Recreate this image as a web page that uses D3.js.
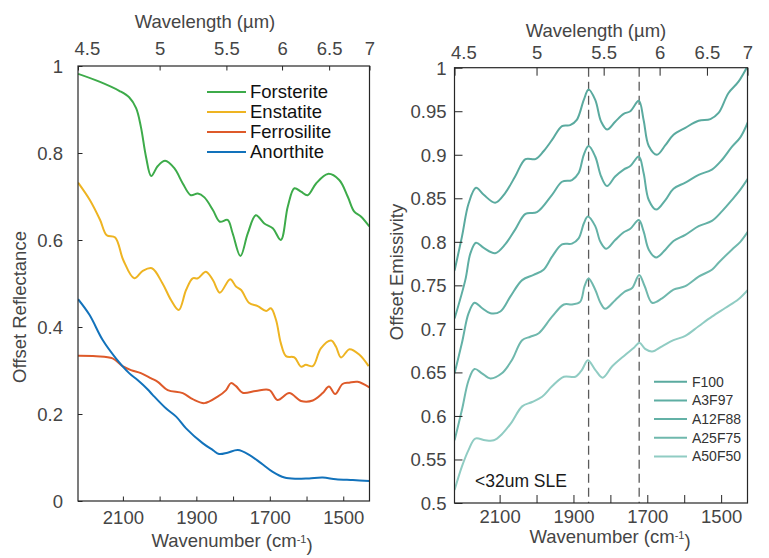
<!DOCTYPE html>
<html>
<head>
<meta charset="utf-8">
<script src="https://cdn.jsdelivr.net/npm/d3@7"></script>
<style>
  html, body { margin: 0; padding: 0; background: #fff; }
  svg { display: block; font-family: "Liberation Sans", Arial, Helvetica, sans-serif; }
</style>
</head>
<body>
<svg id="chart" width="769" height="558"></svg>
<script>
// ---------------- DATA ----------------
// Left panel: offset reflectance vs wavenumber (cm^-1)
const forsteriteWn  = [2222,2164,2110,2083,2064,2051,2037,2023,2005,1985,1960,1937,1915,1896,1878,1855,1836,1815,1801,1780,1760,1738,1715,1692,1670,1651,1633,1615,1597,1574,1542,1511,1488,1470,1452,1429];
const forsteriteVal = [0.982,0.964,0.943,0.928,0.903,0.860,0.791,0.747,0.770,0.782,0.765,0.730,0.703,0.707,0.698,0.669,0.642,0.646,0.615,0.563,0.615,0.657,0.638,0.627,0.600,0.677,0.719,0.711,0.703,0.730,0.752,0.738,0.700,0.665,0.654,0.631];

const enstatiteWn  = [2222,2190,2162,2144,2121,2099,2069,2046,2021,1992,1969,1948,1928,1910,1896,1874,1855,1836,1808,1792,1778,1756,1733,1710,1697,1683,1670,1656,1633,1615,1602,1583,1561,1533,1520,1506,1483,1456,1431];
const enstatiteVal = [0.732,0.692,0.646,0.611,0.606,0.554,0.512,0.529,0.535,0.500,0.462,0.439,0.485,0.512,0.512,0.527,0.508,0.479,0.510,0.493,0.485,0.455,0.448,0.437,0.443,0.416,0.363,0.333,0.330,0.309,0.313,0.310,0.351,0.369,0.355,0.330,0.349,0.336,0.310];

const ferrosiliteWn  = [2222,2173,2128,2101,2078,2051,2023,2005,1978,1937,1910,1878,1842,1819,1806,1792,1774,1738,1701,1679,1647,1615,1583,1556,1539,1522,1502,1484,1461,1429];
const ferrosiliteVal = [0.334,0.333,0.328,0.310,0.301,0.294,0.282,0.274,0.255,0.248,0.234,0.225,0.240,0.255,0.271,0.264,0.249,0.253,0.255,0.232,0.248,0.230,0.231,0.248,0.263,0.246,0.269,0.272,0.274,0.261];

const anorthiteWn  = [2222,2191,2155,2119,2083,2060,2033,2019,1983,1955,1928,1883,1855,1838,1815,1787,1756,1724,1692,1660,1629,1593,1556,1520,1474,1429];
const anorthiteVal = [0.464,0.428,0.370,0.328,0.294,0.278,0.257,0.244,0.213,0.194,0.167,0.133,0.117,0.108,0.111,0.117,0.106,0.087,0.067,0.054,0.051,0.052,0.054,0.050,0.048,0.046];

const leftNames  = ["Forsterite","Enstatite","Ferrosilite","Anorthite"];
const leftColors = ["#3dab4a","#eeb422","#de5a2a","#1272bb"];

// Right panel: offset emissivity vs wavenumber (cm^-1)
const f100Wn  = [2222,2202,2184,2164,2143,2112,2085,2058,2030,2003,1981,1958,1931,1909,1891,1872,1859,1841,1825,1809,1787,1764,1746,1723,1710,1696,1674,1651,1629,1597,1561,1529,1507,1480,1453,1427];
const f100Val = [0.767,0.806,0.844,0.862,0.854,0.845,0.856,0.875,0.895,0.895,0.904,0.917,0.933,0.934,0.940,0.963,0.975,0.963,0.938,0.929,0.938,0.947,0.950,0.962,0.940,0.910,0.900,0.911,0.923,0.931,0.939,0.941,0.948,0.971,0.984,1.003];

const a3f97Wn  = [2222,2193,2179,2164,2143,2112,2085,2058,2030,1999,1958,1931,1904,1886,1872,1859,1841,1825,1809,1787,1764,1746,1723,1710,1696,1676,1651,1629,1597,1561,1525,1498,1471,1448,1427];
const a3f97Val = [0.712,0.756,0.787,0.799,0.793,0.787,0.797,0.814,0.832,0.834,0.854,0.869,0.871,0.879,0.900,0.910,0.898,0.875,0.864,0.875,0.883,0.887,0.898,0.879,0.848,0.837,0.848,0.861,0.868,0.877,0.883,0.894,0.909,0.920,0.938];

const a12f88Wn  = [2222,2202,2184,2168,2148,2125,2098,2071,2039,2008,1981,1958,1931,1904,1886,1872,1861,1841,1827,1811,1787,1764,1746,1723,1710,1696,1676,1651,1629,1597,1561,1525,1498,1471,1448,1427];
const a12f88Val = [0.649,0.684,0.718,0.730,0.724,0.718,0.720,0.737,0.756,0.762,0.768,0.783,0.797,0.798,0.804,0.821,0.829,0.818,0.800,0.792,0.802,0.811,0.815,0.825,0.812,0.791,0.782,0.791,0.801,0.808,0.818,0.824,0.835,0.848,0.860,0.873];

const a25f75Wn  = [2222,2202,2184,2168,2148,2125,2094,2067,2039,2017,1994,1958,1926,1904,1882,1870,1859,1841,1827,1814,1787,1760,1741,1722,1707,1687,1660,1629,1597,1561,1525,1507,1471,1448,1427];
const a25f75Val = [0.572,0.607,0.641,0.654,0.649,0.643,0.649,0.664,0.687,0.691,0.695,0.714,0.728,0.728,0.731,0.749,0.758,0.745,0.730,0.723,0.733,0.743,0.747,0.762,0.749,0.730,0.735,0.745,0.749,0.760,0.768,0.776,0.791,0.800,0.812];

const a50f50Wn  = [2222,2202,2184,2166,2139,2116,2094,2067,2039,2012,1985,1958,1926,1895,1877,1861,1841,1821,1795,1760,1737,1721,1706,1687,1660,1629,1597,1561,1525,1489,1453,1427];
const a50f50Val = [0.515,0.542,0.561,0.574,0.572,0.572,0.579,0.593,0.611,0.616,0.622,0.634,0.645,0.645,0.653,0.664,0.653,0.644,0.657,0.670,0.678,0.684,0.677,0.674,0.680,0.687,0.692,0.703,0.714,0.724,0.734,0.745];

const rightNames  = ["F100","A3F97","A12F88","A25F75","A50F50"];
const rightColors = ["#5aaa9f","#5eaea3","#63b1a6","#6fb8ad","#90ccc3"];
const dashedWn = [1859, 1722];
const annotation = "<32um SLE";

// Axis ticks
const wnTicks = [2100,2000,1900,1800,1700,1600,1500];
const wnLabels = ["2100","","1900","","1700","","1500"];
const wlTicks = [4.5,5,5.5,6,6.5,7];
const wlLabels = ["4.5","5","5.5","6","6.5","7"];
const leftYTicks = [0,0.2,0.4,0.6,0.8,1];
const leftYLabels = ["0","0.2","0.4","0.6","0.8","1"];
const rightYTicks = [0.5,0.55,0.6,0.65,0.7,0.75,0.8,0.85,0.9,0.95,1];
const rightYLabels = ["0.5","0.55","0.6","0.65","0.7","0.75","0.8","0.85","0.9","0.95","1"];

// ---------------- DRAWING ----------------
const svg = d3.select("#chart");
const FS = 18.5;
const TXT = "#454545";
const AX = "#262626";

function drawPanel(cfg) {
  const x = d3.scaleLinear().domain([10000/4.5, 10000/7]).range([cfg.x0, cfg.x1]);
  const y = d3.scaleLinear().domain(cfg.yDomain).range([cfg.y1, cfg.y0]);
  const g = svg.append("g");

  const clipId = "clip" + cfg.id;
  svg.append("defs").append("clipPath").attr("id", clipId)
    .append("rect").attr("x", cfg.x0).attr("y", cfg.y0)
    .attr("width", cfg.x1 - cfg.x0).attr("height", cfg.y1 - cfg.y0);

  const plot = g.append("g").attr("clip-path", `url(#${clipId})`);

  // dashed reference lines
  (cfg.dashed || []).forEach(wn => {
    plot.append("line")
      .attr("x1", x(wn)).attr("x2", x(wn))
      .attr("y1", cfg.y0).attr("y2", cfg.y1)
      .attr("stroke", "#5a5a5a").attr("stroke-width", 1.3)
      .attr("stroke-dasharray", "9,5");
  });

  const line = d3.line()
    .x(d => x(d[0])).y(d => y(d[1]))
    .curve(d3.curveCatmullRom.alpha(0.5));

  cfg.series.forEach((s, i) => {
    const pts = s.wn.map((w, k) => [w, s.val[k]]);
    plot.append("path").datum(pts)
      .attr("fill", "none").attr("stroke", s.color)
      .attr("stroke-width", 2).attr("stroke-linejoin", "round")
      .attr("d", line);
  });

  // axes
  const bottom = d3.axisBottom(x).tickValues(wnTicks)
    .tickFormat((d, i) => wnLabels[i]).tickSizeInner(-cfg.tick).tickSizeOuter(0).tickPadding(0);
  const top = d3.axisTop(x).tickValues(wlTicks.map(l => 10000 / l))
    .tickFormat((d, i) => wlLabels[i]).tickSizeInner(-cfg.tick).tickSizeOuter(0).tickPadding(0);
  const left = d3.axisLeft(y).tickValues(cfg.yTicks)
    .tickFormat((d, i) => cfg.yLabels[i]).tickSizeInner(-cfg.tick).tickSizeOuter(0).tickPadding(cfg.yPad);

  const gb = g.append("g").attr("transform", `translate(0,${cfg.y1})`).call(bottom);
  gb.selectAll("text").attr("y", cfg.bLabelDy).attr("dy", "0.35em");
  const gt = g.append("g").attr("transform", `translate(0,${cfg.y0})`).call(top);
  gt.selectAll("text").attr("y", -cfg.tLabelDy).attr("dy", "0.35em")
    .attr("text-anchor", (d, i) => i === 0 ? "start" : "middle")
    .attr("dx", (d, i) => i === 0 ? -4 : 0);
  const gl = g.append("g").attr("transform", `translate(${cfg.x0},0)`).call(left);
  gl.selectAll("text").attr("dy", "0.35em");

  [gb, gt, gl].forEach(a => {
    a.select(".domain").remove();
    a.selectAll(".tick line").attr("stroke", AX).attr("stroke-width", 1);
    a.selectAll("text").attr("fill", TXT).style("font-size", FS + "px")
      .style("font-family", "'Liberation Sans', Arial, sans-serif");
  });

  // box
  g.append("rect").attr("x", cfg.x0).attr("y", cfg.y0)
    .attr("width", cfg.x1 - cfg.x0).attr("height", cfg.y1 - cfg.y0)
    .attr("fill", "none").attr("stroke", AX).attr("stroke-width", 1.2);

  // titles
  g.append("text").attr("x", cfg.topTitle[0]).attr("y", cfg.topTitle[1]).attr("dy", "0.35em")
    .attr("text-anchor", "middle").attr("fill", TXT).style("font-size", FS + "px")
    .text("Wavelength (µm)");
  const bt = g.append("text").attr("x", cfg.botTitle[0]).attr("y", cfg.botTitle[1]).attr("dy", "0.35em")
    .attr("text-anchor", "middle").attr("fill", TXT).style("font-size", FS + "px");
  bt.append("tspan").text("Wavenumber (cm");
  bt.append("tspan").attr("dy", "-0.45em").style("font-size", "11px").text("-1");
  bt.append("tspan").attr("dy", "0.45em").text(")");
  g.append("text")
    .attr("transform", `translate(${cfg.yTitle[0]},${cfg.yTitle[1]}) rotate(-90)`)
    .attr("dy", "0.35em").attr("text-anchor", "middle").attr("fill", TXT)
    .style("font-size", FS + "px").text(cfg.yTitleText);

  // legend
  const lg = g.append("g");
  cfg.series.forEach((s, i) => {
    const yy = cfg.legend.y + i * cfg.legend.dy;
    lg.append("line").attr("x1", cfg.legend.x0).attr("x2", cfg.legend.x1)
      .attr("y1", yy).attr("y2", yy).attr("stroke", s.color).attr("stroke-width", 2);
    lg.append("text").attr("x", cfg.legend.tx).attr("y", yy).attr("dy", "0.35em")
      .attr("fill", cfg.legend.color).style("font-size", cfg.legend.fs + "px").text(s.name);
  });
  return { g, x, y };
}

drawPanel({
  id: "L", x0: 78, x1: 369.5, y0: 66, y1: 501, yDomain: [0, 1], tick: 4.5, yPad: 15,
  yTicks: leftYTicks, yLabels: leftYLabels,
  bLabelDy: 17, tLabelDy: 17,
  topTitle: [205, 22], botTitle: [232, 541], yTitle: [20, 307], yTitleText: "Offset Reflectance",
  legend: { x0: 207, x1: 246, tx: 250, y: 92, dy: 20, fs: 18.5, color: "#111" },
  series: [
    { name: leftNames[0], color: leftColors[0], wn: forsteriteWn, val: forsteriteVal },
    { name: leftNames[1], color: leftColors[1], wn: enstatiteWn, val: enstatiteVal },
    { name: leftNames[2], color: leftColors[2], wn: ferrosiliteWn, val: ferrosiliteVal },
    { name: leftNames[3], color: leftColors[3], wn: anorthiteWn, val: anorthiteVal }
  ]
});

const R = drawPanel({
  id: "R", x0: 454.5, x1: 747.5, y0: 67.7, y1: 503, yDomain: [0.5, 1], tick: 8, yPad: 8,
  yTicks: rightYTicks, yLabels: rightYLabels,
  bLabelDy: 13.5, tLabelDy: 14.7,
  topTitle: [596, 31], botTitle: [610, 537], yTitle: [397, 272], yTitleText: "Offset Emissivity",
  dashed: dashedWn,
  legend: { x0: 654, x1: 687, tx: 692, y: 381.7, dy: 18.7, fs: 14, color: "#333" },
  series: [
    { name: rightNames[0], color: rightColors[0], wn: f100Wn, val: f100Val },
    { name: rightNames[1], color: rightColors[1], wn: a3f97Wn, val: a3f97Val },
    { name: rightNames[2], color: rightColors[2], wn: a12f88Wn, val: a12f88Val },
    { name: rightNames[3], color: rightColors[3], wn: a25f75Wn, val: a25f75Val },
    { name: rightNames[4], color: rightColors[4], wn: a50f50Wn, val: a50f50Val }
  ]
});

R.g.append("text").attr("x", 475).attr("y", 481).attr("dy", "0.35em")
  .attr("fill", "#1a1a1a").style("font-size", "17.5px").text(annotation);
</script>
</body>
</html>
